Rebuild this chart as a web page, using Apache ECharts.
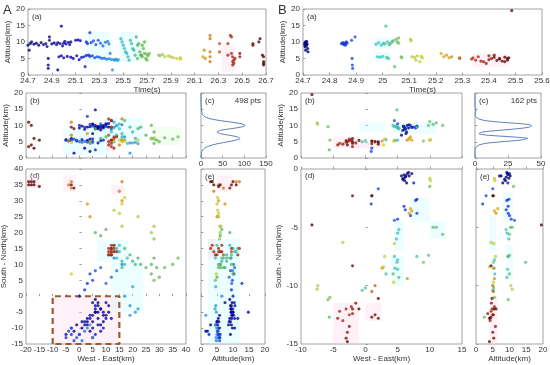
<!DOCTYPE html>
<html><head><meta charset="utf-8">
<script src="https://cdn.jsdelivr.net/npm/echarts@6/dist/echarts.min.js"></script>
<style>html,body{margin:0;padding:0;background:#fff}#c{width:550px;height:365px}</style>
</head><body><div id="c"></div>
<script>
// ===== DATA =====
// Each source: [time(s), westEast(km), southNorth(km), altitude(km)]
const flashA_early = [
 [24.70,6,-1,9.0],[24.71,5,-2,7.5],[24.72,7,-3,9.5],[24.73,6,-5,10.0],[24.75,8,-4,9.3],[24.77,9,-6,9.6],
 [24.79,7,-7,9.0],[24.81,10,-6,9.8],[24.83,9,-8,9.2],[24.85,11,-5,9.5],[24.86,8,-9,8.6],[24.87,3,-8,5.0],
 [24.87,2,-9,3.0],[24.87,4,-11,2.0],[24.88,12,-7,11.5],[24.88,5,-10,10.5],[24.90,6,-4,9.4],[24.92,7,-2,9.7],
 [24.94,0,-12,9.2],[24.95,-2,-11,1.5],[24.95,1,-10,9.8],[24.96,-5,-12,5.5],[24.97,3,-9,9.5],[24.98,6,-5,14.8],
 [24.98,-3,-10,5.8],[24.99,2,-8,8.8],[25.00,4,-7,9.6],[25.00,-1,-9,5.2],[25.01,5,-6,10.2],[25.02,7,-5,9.4],
 [25.03,1,-8,5.6],[25.04,8,-4,9.9],[25.05,6,-3,9.2],[25.06,9,-5,10.0],[25.06,3,-7,5.4],[25.08,5,-8,5.0],
 [25.10,10,-7,10.5],[25.11,4,-6,5.8],[25.12,11,-3,10.6],[25.13,7,-9,4.6],[25.14,10,-2,10.4],[25.15,8,-11,5.3],
 [25.17,9,-10,5.5],[25.18,6,-12,2.5],[25.19,5,-13,5.9]
];
const flashA_mid = [
 [25.19,0,0,10.0],[25.20,2,2,9.5],[25.21,-3,-12,6.0],[25.22,3,4,12.8],[25.22,-5,-13,5.6],[25.23,5,5,9.8],
 [25.24,-2,-14,5.8],[25.25,4,7,10.3],[25.26,-4,-11,5.2],[25.27,6,8,9.2],[25.28,-1,-13,5.5],[25.29,8,9,10.5],
 [25.30,-3,-10,5.4],[25.31,10,4,9.6],[25.32,0,-12,5.0],[25.33,12,6,8.8],[25.34,2,-11,5.1],[25.35,14,8,9.9],
 [25.36,1,-14,4.8],[25.37,16,10,10.2],[25.38,3,-10,4.9],[25.38,13,12,9.4],[25.39,17,0,6.5],[25.40,5,-13,4.7],
 [25.41,19,-6,1.5],[25.42,19,-3,4.6],[25.43,4,-9,4.5],[25.44,21,-5,4.8],[25.45,22,-4,4.4],[25.46,20,3,4.6],
 [25.48,13,14,11.0],[25.49,14,15,10.0],[25.50,15,16,9.0],[25.51,12,13,8.0],[25.52,14,12,7.0],[25.53,16,11,6.5],
 [25.54,17,10,5.5],[25.55,18,12,4.5],[25.56,15,14,10.5],[25.57,19,13,9.5],[25.58,20,11,8.0],[25.59,16,9,7.5],
 [25.60,21,10,6.0],[25.61,17,15,11.5],[25.62,22,12,9.0],[25.62,13,16,5.0],
 [25.63,23,10,9.5],[25.64,25,9,7.0],[25.65,8,19,6.0],[25.65,27,10,6.0],[25.66,6,20,9.0],[25.66,29,9,5.5],
 [25.67,28,12,8.0],[25.68,10,21,6.5],[25.68,27,7,10.0],[25.69,30,6,5.0],[25.70,32,9,6.2],[25.70,28,5,4.5],
 [25.71,35,10,5.8],[25.72,37,12,6.5]
];
const flashA_late = [
 [25.80,27,20,6.0],[25.81,28,18,5.8],[25.83,28,22,6.2],[25.85,22,25,5.5],[25.88,16,22,5.8],[25.90,15,26,5.5],
 [25.92,13,27,5.2],[25.95,16,29,5.0],[25.98,17,31,5.2],[25.98,-3,7,4.8],
 [26.17,16,30,5.5],[26.18,3,29,7.5],[26.19,4,25,5.0],[26.23,16,36,12.0],[26.23,-3,36,11.0],[26.23,-3,34,7.0],
 [26.23,-4,35,5.5],[26.23,15,33,4.0],
 [26.31,12,14,9.5],[26.31,11,13,7.0],[26.38,12,15,9.5],[26.38,13,14,6.0],[26.40,11,15,12.0],[26.41,12,13,11.5],
 [26.41,13,16,6.5],[26.42,12,14,5.5],[26.42,11,14,4.0],[26.42,13,15,3.0],[26.43,12,13,4.5],[26.43,12,16,3.5],
 [26.44,11,13,5.0],[26.48,14,14,6.5],[26.48,12,15,5.5],
 [26.59,-3,35,9.5],[26.59,-2,34,9.0],[26.64,-18,36,10.0],[26.65,-19,35,11.0],[26.67,-17,35,6.0],
 [26.68,-18,35,4.0],[26.68,-19,36,3.5],[26.68,-17,36,3.0],[26.68,-15,34.5,5.5]
];
const flashB_early = [
 [24.706,6.0,-0.5,9.5],[24.707,6.2,-0.7,9.0],[24.708,5.8,-0.9,8.5],[24.709,6.5,-0.4,10.0],[24.710,6.3,-0.6,7.5],
 [24.711,5.9,-0.8,9.8],[24.712,6.7,-0.3,9.2],[24.713,6.1,-1.0,8.8],[24.714,6.8,-0.6,10.2],[24.716,7.2,-0.4,9.4],
 [24.718,6.4,-1.2,8.0],[24.719,5.6,-0.6,7.0],
 [24.845,7.5,-1.2,9.5],[24.850,8.0,-2.6,9.8],[24.853,7.8,-2.7,9.2],[24.857,6.0,-3.2,9.6],[24.860,6.2,-3.5,9.0],
 [24.863,7.0,-4.0,10.0],[24.866,8.0,-3.8,9.6],[24.883,5.0,-4.3,10.5],[24.885,2.0,-1.7,5.0],[24.886,1.0,-2.3,3.0],
 [24.887,0.9,-3.0,2.0],[24.896,4.5,-4.4,11.5]
];
const flashB_mid = [
 [24.975,5.0,-5.5,9.3],[24.980,5.0,-7.8,5.5],[24.985,4.8,-6.0,9.8],[24.990,4.6,-8.5,5.4],[24.995,5.2,-5.2,9.0],
 [25.000,3.2,-9.0,5.6],[25.003,4.5,-7.5,9.6],[25.008,5.0,-8.6,9.4],[25.012,4.9,-8.0,14.8],[25.015,0.0,-10.2,5.3],
 [25.018,4.3,-9.0,10.0],[25.022,-0.5,-10.4,5.0],[25.025,5.2,-9.3,9.2],[25.028,8.0,-7.5,9.5],
 [25.035,9.8,-7.4,10.0],[25.040,10.5,-5.0,10.3],[25.045,-5.6,-12.7,2.5],[25.050,11.0,-5.0,10.8],
 [25.055,12.0,-5.6,10.0],[25.060,10.0,-1.5,11.2],[25.060,-5.8,-11.2,9.6],[25.070,-5.5,-11.0,5.5],[25.072,9.0,-8.0,5.2],
 [25.105,-7.5,-10.3,10.8],[25.107,-7.4,-10.0,10.4],[25.110,10.0,-0.8,5.5],[25.120,4.5,-6.4,5.3],[25.125,-3.5,-6.3,4.5],
 [25.130,3.0,-7.5,5.8],[25.140,2.8,-8.4,4.0],[25.145,10.1,-1.0,5.6],[25.150,4.4,-9.7,5.2]
];
const flashB_late = [
 [25.22,7.0,-3.4,6.5],[25.23,7.2,-3.6,5.5],[25.24,6.8,-3.8,6.0],[25.25,2.6,-8.5,5.2],[25.26,6.5,-9.4,5.5],
 [25.29,1.5,-10.0,5.0],[25.29,1.0,-10.5,5.2],
 [25.335,-3.0,-12.0,4.8],[25.34,-2.5,-12.5,5.2],[25.35,-4.0,-12.2,4.5],[25.36,-2.2,-11.8,5.5],[25.37,-3.5,-13.0,4.2],
 [25.38,-4.3,-12.8,4.0],[25.39,-2.0,-12.4,3.5],[25.40,-2.5,-13.5,5.8],[25.40,-1.5,-11.5,4.6],[25.41,-2.8,-14.0,5.0],
 [25.42,-3.0,-14.5,5.3],[25.42,-2.0,-12.0,6.0],[25.43,1.0,-12.7,4.4],[25.44,1.5,-12.5,5.0],[25.44,2.0,-11.1,4.8],
 [25.45,2.0,-12.8,4.2],[25.46,-1.0,-12.0,5.4],[25.46,-2.8,-14.8,4.0],[25.47,-2.0,-8.3,4.5],[25.47,-2.0,-2.3,5.0],
 [25.475,1.0,-2.3,5.2],[25.486,-8.3,-4.8,19.5]
];
// altitude distribution curves (c): altitude (km) and source count
const distAlt = [0,0.5,1,1.5,2,2.5,3,3.5,4,4.5,5,5.5,6,6.5,7,7.5,8,8.5,9,9.5,10,10.5,11,11.5,12,12.5,13,13.5,14,14.5,15,15.5,16,16.5,17,17.5,18,18.5,19,19.5,20];
const distCountA = [0,0,0.5,1,2,4,8,15,26,42,62,80,90,84,65,45,37,45,68,92,102,95,72,45,24,12,6,3,2,1.5,1,0.8,0.5,0.3,0.2,0.1,0,0,0,0,0];
const distCountB = [0,0,0,0,0,0,0.5,1,3,8,20,34,40,28,10,3,6,18,32,41,43,36,20,8,3,1,0.3,0.2,0.3,0.6,0.8,0.3,0,0,0,0,0,0,0,0,0];
const ptsA = '498 pts', ptsB = '162 pts';
// tick ranges
const timeTicksA = {min:24.7, max:26.7, step:0.2};
const timeTicksB = {min:24.7, max:25.6, step:0.1};

// ===== STYLE =====
const FONT = '"Liberation Sans", Arial, sans-serif';
const TXT = '#333';
const colorStopsA = [[24.70,'#000080'],[25.12,'#0000c8'],[25.30,'#1f5fff'],[25.50,'#20d0e8'],[25.66,'#50c850'],
  [25.85,'#b8e040'],[26.00,'#f0e000'],[26.18,'#f0a000'],[26.35,'#d03010'],[26.68,'#600000']];
const colorStopsB = [[24.70,'#000080'],[24.80,'#0000d0'],[24.88,'#1040ff'],[24.98,'#30d8f0'],[25.05,'#60d060'],
  [25.11,'#c8e040'],[25.16,'#f0e000'],[25.25,'#f0a000'],[25.33,'#d03010'],[25.49,'#500000']];
const PATCH = {c:'rgba(185,250,255,0.28)', p:'rgba(255,205,225,0.28)', g:'rgba(210,255,200,0.28)'};
// shaded highlight regions [x0,x1,y0,y1,color]
const patchA_a = [[25.18,25.40,3.5,13,'c'],[25.47,25.62,4,13,'c'],[25.62,25.71,4,10.5,'g'],[26.33,26.44,1,9,'p']];
const patchA_b = [[-6,11,1,9,'c'],[9,24,6,12.3,'c'],[28,38,4,9.5,'g'],[10,13,2,6,'p']];
const patchA_d = [[-10,15,-15,0,'p'],[6.6,18.3,10.8,17.7,'c'],[12,24,-5,10.8,'c'],[-20,-15,34,38,'p'],[-6,-1.6,32.8,38,'p'],[12,17,32,35,'p']];
const patchA_e = [[5,10,33,38,'p'],[2.2,12.2,-15,18,'c'],[2.2,4.8,12,18,'p']];
const patchB_a = [[24.97,25.04,8,11.5,'c'],[24.97,25.03,4,7,'c'],[25.34,25.47,2.5,6.5,'p']];
const patchB_b = [[-5,-1,3,6.5,'p'],[-1.5,2.5,3,5,'p'],[4,11,7.5,11,'c'],[-1,3,8,11,'c']];
const patchB_d = [[-5,-1,-15,-11.5,'p'],[0,2.5,-13,-11.5,'p'],[4,6,-10,-7.5,'c'],[4.5,6,-7,-4.5,'c'],[10,12.5,-6,-4.5,'c'],[7,10,-4.5,-2.5,'c']];
const patchB_e = [[4,6.5,-15,-11,'p'],[9,11,-9.5,-6.5,'c'],[4,6,-7,-4,'c'],[8,11,-4.5,-2,'c']];
const dashBoxA = {x0:-10, x1:15, y0:-15, y1:0};

function hex2rgb(h){return [parseInt(h.substr(1,2),16),parseInt(h.substr(3,2),16),parseInt(h.substr(5,2),16)];}
function timeColor(t, stops){
  if(t<=stops[0][0]) return stops[0][1];
  for(let i=1;i<stops.length;i++){
    if(t<=stops[i][0]){
      const f=(t-stops[i-1][0])/(stops[i][0]-stops[i-1][0]);
      const a=hex2rgb(stops[i-1][1]), b=hex2rgb(stops[i][1]);
      return 'rgb('+a.map((v,k)=>Math.round(v+(b[k]-v)*f)).join(',')+')';
    }
  }
  return stops[stops.length-1][1];
}

const grids=[], xAxes=[], yAxes=[], series=[], texts=[];
function mkAxis(o, gi, isX){
  const a = {type:'value', gridIndex:gi, min:o.min, max:o.max, interval:o.interval,
    axisLine:{show:false},
    axisTick:{show:true, inside:true, length:2.5, lineStyle:{color:'#8a8a8a', width:0.8}},
    splitLine:{show:false},
    axisLabel:{show:o.labels!==false, fontSize:8, color:TXT, fontFamily:FONT, margin:isX?2:3,
      formatter: v => String(+(+v).toFixed(2))}};
  if(o.name){a.name=o.name; a.nameLocation='middle'; a.nameGap=o.gap; a.nameTextStyle={fontSize:8,color:TXT,fontFamily:FONT};}
  return a;
}
function addPanel(r, xo, yo){
  const gi=grids.length;
  grids.push({left:r[0], top:r[1], width:r[2]-r[0], height:r[3]-r[1], show:true, borderColor:'#8a8a8a', borderWidth:0.8,
    backgroundColor:'transparent', containLabel:false, outerBoundsMode:'none'});
  xAxes.push(mkAxis(xo, gi, true)); yAxes.push(mkAxis(yo, gi, false));
  return gi;
}
function scatter(gi, rows, ix, iy, stops, patches){
  series.push({type:'scatter', xAxisIndex:gi, yAxisIndex:gi, symbolSize:2.9, silent:true,
    data: rows.map(r=>({value:[r[ix], r[iy]], itemStyle:{color:timeColor(r[0],stops), borderColor:'rgba(0,0,0,0.3)', borderWidth:0.4}})),
    markArea:{silent:true, label:{show:false},
      data: patches.map(p=>[{xAxis:p[0], yAxis:p[2], itemStyle:{color:PATCH[p[4]]}},{xAxis:p[1], yAxis:p[3]}])}
  });
}
function curve(gi, counts){
  series.push({type:'line', xAxisIndex:gi, yAxisIndex:gi, showSymbol:false, symbol:'none', silent:true, smooth:0.3,
    lineStyle:{color:'#5c7fb8', width:1}, data: distAlt.map((a,i)=>[counts[i], a])});
}
function label(x, y, s, size, align){
  texts.push({type:'text', x:x, y:y, silent:true,
    style:{text:s, fill:TXT, font:(size||8)+'px '+FONT, textAlign:align||'left', textVerticalAlign:'top'}});
}

const srcA = flashA_early.concat(flashA_mid, flashA_late);
const srcB = flashB_early.concat(flashB_mid, flashB_late);
const T=0, EW=1, SN=2, ALT=3;

// ---- Flash A ----
let g;
g = addPanel([28,9,266,75], {min:timeTicksA.min,max:timeTicksA.max,interval:timeTicksA.step,name:'Time(s)',gap:9},
  {min:0,max:20,interval:5,name:'Altitude(km)',gap:15});
scatter(g, srcA, T, ALT, colorStopsA, patchA_a);
g = addPanel([26,93,186,158], {min:-20,max:40,interval:5,labels:false},
  {min:0,max:20,interval:5,name:'Altitude(km)',gap:13});
scatter(g, srcA, EW, ALT, colorStopsA, patchA_b);
g = addPanel([201,93,266,158], {min:0,max:150,interval:50}, {min:0,max:20,interval:5,labels:false});
curve(g, distCountA);
g = addPanel([26,169,186,344], {min:-20,max:40,interval:5,name:'West - East(km)',gap:9},
  {min:-15,max:40,interval:5,name:'South - North(km)',gap:11});
scatter(g, srcA, EW, SN, colorStopsA, patchA_d);
series.push({type:'line', xAxisIndex:g, yAxisIndex:g, symbol:'none', silent:true, z:1,
  lineStyle:{color:'#9b5a2a', width:2.2, type:[6,4]},
  data:[[dashBoxA.x0,dashBoxA.y0],[dashBoxA.x0,dashBoxA.y1],[dashBoxA.x1,dashBoxA.y1],[dashBoxA.x1,dashBoxA.y0],[dashBoxA.x0,dashBoxA.y0]]});
g = addPanel([201,169,265,344], {min:0,max:20,interval:5,name:'Altitude(km)',gap:9},
  {min:-15,max:40,interval:5,labels:false});
scatter(g, srcA, ALT, SN, colorStopsA, patchA_e);

// ---- Flash B ----
g = addPanel([303,9,542,75], {min:timeTicksB.min,max:timeTicksB.max,interval:timeTicksB.step,name:'Time(s)',gap:9},
  {min:0,max:20,interval:5,name:'Altitude(km)',gap:15});
scatter(g, srcB, T, ALT, colorStopsB, patchB_a);
g = addPanel([301,93,462,158], {min:-10,max:15,interval:5,labels:false},
  {min:0,max:20,interval:5,name:'Altitude(km)',gap:13});
scatter(g, srcB, EW, ALT, colorStopsB, patchB_b);
g = addPanel([475,93,541,158], {min:0,max:50,interval:25}, {min:0,max:20,interval:5,labels:false});
curve(g, distCountB);
g = addPanel([301,169,462,344], {min:-10,max:15,interval:5,name:'West - East(km)',gap:9},
  {min:-15,max:0,interval:5,name:'South - North(km)',gap:12});
scatter(g, srcB, EW, SN, colorStopsB, patchB_d);
g = addPanel([476,169,543,344], {min:0,max:20,interval:5,name:'Altitude(km)',gap:9},
  {min:-15,max:0,interval:5,labels:false});
scatter(g, srcB, ALT, SN, colorStopsB, patchB_e);

// panel letters
label(3,4,'A',13); label(278,4,'B',13);
label(32,13,'(a)'); label(30,97,'(b)'); label(205,97,'(c)'); label(261,97,ptsA,8,'right');
label(30,172,'(d)'); label(205,173,'(e)');
label(307,13,'(a)'); label(305,97,'(b)'); label(479,97,'(c)'); label(537,97,ptsB,8,'right');
label(305,172,'(d)'); label(480,173,'(e)');

const chart = echarts.init(document.getElementById('c'), null, {renderer:'canvas'});
chart.setOption({animation:false, backgroundColor:'#fff', grid:grids, xAxis:xAxes, yAxis:yAxes, series:series, graphic:texts});
</script></body></html>
